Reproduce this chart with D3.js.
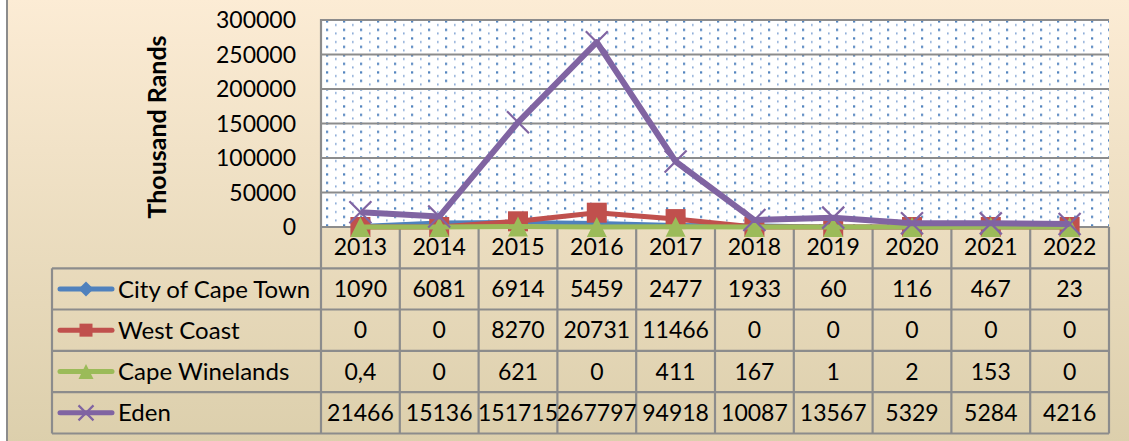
<!DOCTYPE html>
<html><head><meta charset="utf-8">
<script src="https://cdn.jsdelivr.net/npm/d3@7"></script>
<style>html,body{margin:0;padding:0;overflow:hidden;background:#fff}</style>
</head><body>
<script>
const years = ["2013","2014","2015","2016","2017","2018","2019","2020","2021","2022"];
const cityCapeTown = [1090,6081,6914,5459,2477,1933,60,116,467,23];
const westCoast = [0,0,8270,20731,11466,0,0,0,0,0];
const capeWinelands = [0.4,0,621,0,411,167,1,2,153,0];
const eden = [21466,15136,151715,267797,94918,10087,13567,5329,5284,4216];
const yTicks = [0,50000,100000,150000,200000,250000,300000];
const seriesNames = ["City of Cape Town","West Coast","Cape Winelands","Eden"];
const seriesColors = ["#4F81BD","#C0504D","#9BBB59","#8064A2"];
const seriesMarkers = ["diamond","square","triangle","x"];
const seriesValues = [cityCapeTown, westCoast, capeWinelands, eden];

(function(){
const W = 1129, H = 441;
const FONT = "Lato, 'Open Sans', sans-serif";
const FS = 23;
const svg = d3.select("body").append("svg").attr("width", W).attr("height", H);
const defs = svg.append("defs");
const bg = defs.append("linearGradient").attr("id","bg").attr("x1",0).attr("y1",0).attr("x2",0).attr("y2",1);
bg.append("stop").attr("offset","0%").attr("stop-color","#FCECD5");
bg.append("stop").attr("offset","100%").attr("stop-color","#DCCFAC");
const pat = defs.append("pattern").attr("id","dots").attr("patternUnits","userSpaceOnUse")
  .attr("width",17).attr("height",8.5).attr("x",321).attr("y",20);
pat.append("rect").attr("width",17).attr("height",8.5).attr("fill","#fff");
pat.append("rect").attr("x",5).attr("y",0.3).attr("width",2.2).attr("height",2.2).attr("fill","#4F81BD");
pat.append("rect").attr("x",14.2).attr("y",4).attr("width",1.3).attr("height",2).attr("fill","#6F97CE");

svg.append("rect").attr("x",7).attr("y",-2).attr("width",W+10).attr("height",H+4)
  .attr("fill","url(#bg)").attr("stroke","#8C8C8C").attr("stroke-width",2);

const pL = 321, pR = 1109, pT = 20, pB = 227;
const x = d3.scaleBand().domain(years).range([pL,pR]).padding(0);
const y = d3.scaleLinear().domain([0,300000]).range([pB, pT]);
const gridCol = "#8C8C8C";

svg.append("rect").attr("x",pL).attr("y",pT).attr("width",pR-pL).attr("height",pB-pT).attr("fill","url(#dots)");
svg.append("g").selectAll("line").data(yTicks).join("line")
  .attr("x1",pL).attr("x2",pR).attr("y1",d=>y(d)).attr("y2",d=>y(d))
  .attr("stroke",gridCol).attr("stroke-width",2.2);
svg.append("line").attr("x1",pL).attr("x2",pL).attr("y1",pT-1).attr("y2",pB).attr("stroke",gridCol).attr("stroke-width",2.2);

svg.append("g").selectAll("text").data(yTicks).join("text")
  .attr("x",296).attr("y",d=>y(d)).attr("dy","0.36em").attr("text-anchor","end")
  .attr("font-family",FONT).attr("font-size",FS).attr("fill","#000").text(d=>d);
svg.append("text").attr("transform","translate(166,127) rotate(-90)").attr("text-anchor","middle")
  .attr("font-family",FONT).attr("font-weight","bold").attr("font-size",25).attr("fill","#000").text("Thousand Rands");

const rowH = [227,268.3,309.5,350.8,392.2,433.5];
const tableLeft = 52;
const tg = svg.append("g");
rowH.slice(1).forEach(r=>{
  tg.append("line").attr("x1",tableLeft).attr("x2",pR).attr("y1",r).attr("y2",r).attr("stroke",gridCol).attr("stroke-width",2.2);
});
tg.append("line").attr("x1",tableLeft).attr("x2",tableLeft).attr("y1",rowH[1]).attr("y2",rowH[5]).attr("stroke",gridCol).attr("stroke-width",2.2);
const bounds = years.map(d=>x(d)).concat([pR]);
tg.selectAll("line.v").data(bounds).join("line").attr("class","v")
  .attr("x1",d=>d).attr("x2",d=>d).attr("y1",rowH[0]).attr("y2",rowH[5]).attr("stroke",gridCol).attr("stroke-width",2.2);
tg.selectAll("text.yr").data(years).join("text").attr("class","yr")
  .attr("x",d=>x(d)+x.bandwidth()/2).attr("y",(rowH[0]+rowH[1])/2-1).attr("dy","0.36em")
  .attr("text-anchor","middle").attr("font-family",FONT).attr("font-size",FS).text(d=>d);
const fmt = v => String(v).replace(".",",");
seriesValues.forEach((vals,si)=>{
  const cy = (rowH[si+1]+rowH[si+2])/2;
  tg.selectAll("text.v"+si).data(vals).join("text").attr("class","v"+si)
    .attr("x",(d,i)=>x(years[i])+x.bandwidth()/2).attr("y",cy).attr("dy","0.36em")
    .attr("text-anchor","middle").attr("font-family",FONT).attr("font-size",FS).text(d=>fmt(d));
  tg.append("text").attr("x",118).attr("y",cy).attr("dy","0.36em")
    .attr("font-family",FONT).attr("font-size",24).text(seriesNames[si]);
});

function marker(g, type, cx, cy, s, color){
  if(type==="diamond"){
    g.append("path").attr("d",`M${cx},${cy-s/2}L${cx+s/2},${cy}L${cx},${cy+s/2}L${cx-s/2},${cy}Z`).attr("fill",color);
  } else if(type==="square"){
    g.append("rect").attr("x",cx-s/2).attr("y",cy-s/2).attr("width",s).attr("height",s).attr("fill",color);
  } else if(type==="triangle"){
    g.append("path").attr("d",`M${cx},${cy-s/2}L${cx+s/2},${cy+s/2}L${cx-s/2},${cy+s/2}Z`).attr("fill",color);
  } else {
    g.append("path").attr("d",`M${cx-s/2},${cy-s/2}L${cx+s/2},${cy+s/2}M${cx+s/2},${cy-s/2}L${cx-s/2},${cy+s/2}`)
      .attr("stroke",color).attr("stroke-width",2.2).attr("fill","none");
  }
}
seriesValues.forEach((vals,si)=>{
  const cy = (rowH[si+1]+rowH[si+2])/2;
  const g = svg.append("g");
  g.append("line").attr("x1",60).attr("x2",112).attr("y1",cy).attr("y2",cy)
    .attr("stroke",seriesColors[si]).attr("stroke-width",5).attr("stroke-linecap","round");
  marker(g, seriesMarkers[si], 86, cy, si===1?13:15, seriesColors[si]);
});

const lineWidths = [4.5,5,5,6];
const markerSizes = [18,20,20,22];
const line = d3.line().x((d,i)=>x(years[i])+x.bandwidth()/2).y(d=>y(d));
seriesValues.forEach((vals,si)=>{
  const g = svg.append("g");
  g.append("path").attr("d",line(vals)).attr("fill","none").attr("stroke",seriesColors[si])
    .attr("stroke-width",lineWidths[si]).attr("stroke-linejoin","round");
  vals.forEach((v,i)=>marker(g, seriesMarkers[si], x(years[i])+x.bandwidth()/2, y(v), markerSizes[si], seriesColors[si]));
});
})();
</script>
</body></html>
